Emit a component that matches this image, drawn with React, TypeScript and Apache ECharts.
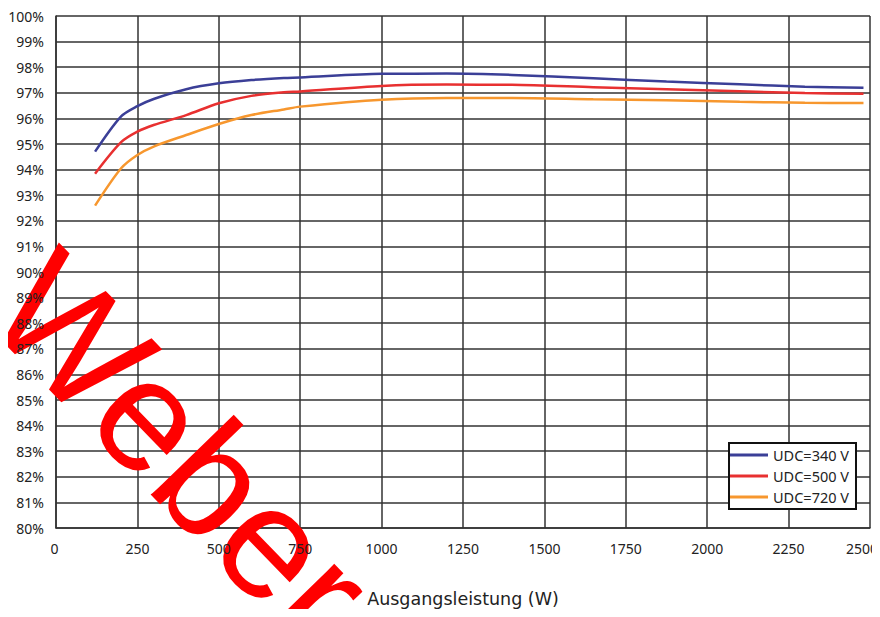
import React, { useEffect, useRef } from "react";
import * as echarts from "echarts";

const xValues = [120, 200, 250, 300, 400, 500, 600, 700, 750, 1000, 1200, 1400, 1650, 1875, 2100, 2300, 2480];
const udc340 = [94.7, 96.08, 96.48, 96.76, 97.14, 97.37, 97.5, 97.58, 97.6, 97.74, 97.75, 97.7, 97.57, 97.44, 97.33, 97.24, 97.2];
const udc500 = [93.84, 95.07, 95.48, 95.74, 96.13, 96.59, 96.88, 97.02, 97.05, 97.27, 97.32, 97.31, 97.22, 97.14, 97.06, 96.99, 96.96];
const udc720 = [92.59, 94.05, 94.57, 94.9, 95.35, 95.78, 96.13, 96.35, 96.46, 96.73, 96.8, 96.8, 96.75, 96.71, 96.65, 96.61, 96.6];
const seriesNames = ["UDC=340 V", "UDC=500 V", "UDC=720 V"];
const seriesColors = ["#3b3f97", "#e83030", "#f7972e"];
const xTitle = "Ausgangsleistung (W)";
const watermark = "Weber";

const FONT = "Noto Sans";

export default function App() {
  const ref = useRef<HTMLDivElement>(null);
  useEffect(() => {
    if (!ref.current) return;
    const chart = echarts.init(ref.current, null, { renderer: "svg" });
    const all = [udc340, udc500, udc720];
    const gridLine = { lineStyle: { color: "#333", width: 1.5 } };
    chart.setOption({
      animation: false,
      backgroundColor: "#fff",
      grid: { left: 56, right: 10, top: 16, bottom: 89, containLabel: false, outerBoundsMode: "none" },
      xAxis: [
        {
          type: "value", min: 0, max: 2500, interval: 250, z: 0,
          axisLine: { show: true, lineStyle: { color: "#333", width: 1.5 } },
          axisTick: { show: false },
          axisLabel: { show: false },
          splitLine: { show: true, ...gridLine },
        },
        {
          type: "value", min: 0, max: 2500, interval: 250, position: "bottom", z: 10,
          axisLine: { show: false }, axisTick: { show: false }, splitLine: { show: false },
          axisLabel: {
            show: true, color: "#222", fontSize: 14, fontFamily: FONT, margin: 13,
            formatter: (v: number) => (v === 2500 ? `{r|${v}}` : v === 0 ? `{l|${v}}` : String(v)),
            rich: {
              r: { fontSize: 14, fontFamily: FONT, color: "#222", padding: [0, 16, 0, 0] },
              l: { fontSize: 14, fontFamily: FONT, color: "#222", padding: [0, 3, 0, 0] },
            },
          },
          name: xTitle, nameLocation: "middle", nameGap: 62,
          nameTextStyle: { color: "#222", fontSize: 17.5, fontFamily: "DejaVu Sans" },
        },
      ],
      yAxis: [
        {
          type: "value", min: 80, max: 100, interval: 1, z: 0,
          axisLine: { show: true, lineStyle: { color: "#333", width: 1.5 } },
          axisTick: { show: false },
          axisLabel: { show: false },
          splitLine: { show: true, ...gridLine },
        },
        {
          type: "value", min: 80, max: 100, interval: 1, position: "left", z: 10,
          axisLine: { show: false }, axisTick: { show: false }, splitLine: { show: false },
          axisLabel: { show: true, color: "#222", fontSize: 14, fontFamily: FONT, margin: 12, formatter: (v: number) => `${v}%` },
        },
      ],
      legend: {
        orient: "vertical", right: 24, top: 443, z: 20,
        backgroundColor: "#fff", borderColor: "#111", borderWidth: 2,
        padding: [4, 7, 4, 1], itemGap: 5, itemWidth: 38, itemHeight: 3, icon: "rect",
        textStyle: { color: "#222", fontSize: 14.5, fontFamily: FONT, lineHeight: 16 },
        data: seriesNames,
      },
      graphic: [
        {
          type: "text", x: 181, y: 447, rotation: (-46 * Math.PI) / 180, z: 5,
          style: {
            text: watermark, fill: "#ff0000", fontSize: 159,
            fontFamily: "Liberation Sans", align: "center", verticalAlign: "middle",
          },
        },
      ],
      series: all.map((vals, i) => ({
        name: seriesNames[i], type: "line", xAxisIndex: 0, yAxisIndex: 0, z: 2,
        data: xValues.map((x, j) => [x, vals[j]]),
        showSymbol: false, smooth: 0.3,
        lineStyle: { color: seriesColors[i], width: 2.5 },
        itemStyle: { color: seriesColors[i] },
      })),
    });
    return () => chart.dispose();
  }, []);
  return <div ref={ref} style={{ width: 880, height: 617, margin: -8 }} />;
}
